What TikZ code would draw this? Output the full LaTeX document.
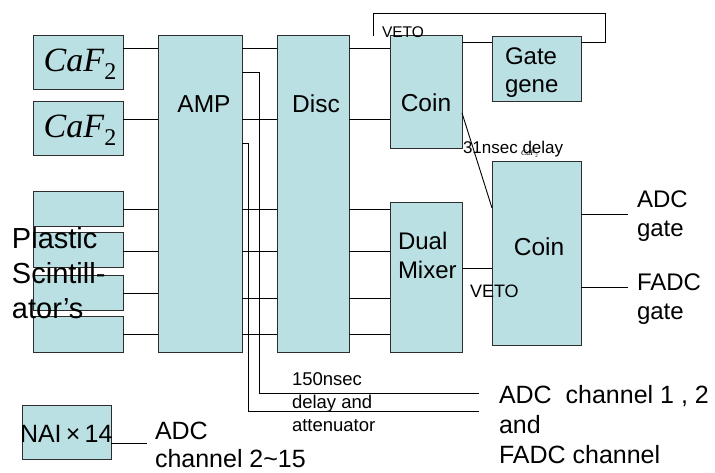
\documentclass[tikz,border=0pt]{standalone}
\usepackage{fontspec}
\setmainfont{Liberation Sans}
\newfontfamily\serifrm{Liberation Serif}
\usetikzlibrary{calc}
\definecolor{boxfill}{RGB}{187,224,227}
\definecolor{boxline}{RGB}{45,45,45}
\newcommand{\fsz}[2]{\fontsize{#1}{#2}\selectfont}
\newcommand{\cafbig}{{\serifrm\fsz{34}{34}\textit{CaF}\raisebox{-8pt}{\fsz{24}{24}2}}}
\newcommand{\caftiny}{{\serifrm\fsz{8}{8}\textit{CaF}\raisebox{-2pt}{\fsz{5}{5}2}}}
\newcommand{\mkbox}[5]{\node[box, minimum width={#4-#2}, minimum height={#5-#3}] (#1) at ({(#2+#4)/2},{(#3+#5)/2}) {};}
\begin{document}
\begin{tikzpicture}[x=1pt,y=-1pt,
  box/.style={draw=boxline, fill=boxfill, line width=1pt, inner sep=0pt, outer sep=0pt},
  lbl/.style={inner sep=0pt, outer sep=0pt},
  wire/.style={draw=black, line width=0.9pt}]
\useasboundingbox (0,0) rectangle (715,473);

% boxes
\mkbox{caf1}{33}{36}{123}{90}
\mkbox{caf2}{33}{102}{123}{156}
\mkbox{amp}{158}{36}{242}{352}
\mkbox{disc}{277}{36}{349}{352}
\mkbox{coin1}{390}{36}{462}{149}
\mkbox{gate}{492}{37}{581}{102}
\mkbox{mixer}{390}{203}{462}{352}
\mkbox{coin2}{492}{162}{581}{345}
\mkbox{p1}{33}{192}{123}{227}
\mkbox{p2}{33}{233}{123}{268}
\mkbox{p3}{33}{275}{123}{310}
\mkbox{p4}{33}{316}{123}{352}
\mkbox{nai}{22}{405}{111}{459}

% CaF2 rows
\draw[wire] (caf1.east |- 0,48) -- (amp.west |- 0,48);
\draw[wire] (amp.east |- 0,48) -- (disc.west |- 0,48);
\draw[wire] (disc.east |- 0,48) -- (coin1.west |- 0,48);
\draw[wire] (caf2.east |- 0,119) -- (amp.west |- 0,119);
\draw[wire] (amp.east |- 0,119) -- (disc.west |- 0,119);
\draw[wire] (disc.east |- 0,119) -- (coin1.west |- 0,119);

% plastic rows
\draw[wire] (p1.east |- 0,209) -- (amp.west |- 0,209);
\draw[wire] (p2.east |- 0,251) -- (amp.west |- 0,251);
\draw[wire] (p3.east |- 0,293) -- (amp.west |- 0,293);
\draw[wire] (p4.east |- 0,334) -- (amp.west |- 0,334);
\draw[wire] (amp.east |- 0,209) -- (disc.west |- 0,209);
\draw[wire] (amp.east |- 0,251) -- (disc.west |- 0,251);
\draw[wire] (amp.east |- 0,298) -- (disc.west |- 0,298);
\draw[wire] (amp.east |- 0,334) -- (disc.west |- 0,334);
\draw[wire] (disc.east |- 0,209) -- (mixer.west |- 0,209);
\draw[wire] (disc.east |- 0,251) -- (mixer.west |- 0,251);
\draw[wire] (disc.east |- 0,298) -- (mixer.west |- 0,298);
\draw[wire] (disc.east |- 0,334) -- (mixer.west |- 0,334);

% coincidence / veto loop
\coordinate (vetoend) at (373,36);
\coordinate (loopa) at (605,42);
\coordinate (loopb) at (605,13);
\coordinate (loopc) at (373,13);
\draw[wire] (coin1.east |- 0,42) -- (gate.west |- 0,42);
\draw[wire] (gate.east |- loopa) -- (loopa) -- (loopb) -- (loopc) -- (vetoend);
\draw[wire] (coin1.east |- 0,113) -- (coin2.west |- 0,208);
\draw[wire] (mixer.east |- 0,268) -- (coin2.west |- 0,268);
\coordinate (adcg) at (628,214);
\coordinate (fadcg) at (628,287);
\draw[wire] (coin2.east |- adcg) -- (adcg);
\draw[wire] (coin2.east |- fadcg) -- (fadcg);

% delay lines
\coordinate (dl1) at (479,393);
\coordinate (dl2) at (479,411);
\draw[wire] (amp.east |- 0,72) -| (259,393) -- (dl1);
\draw[wire] (amp.east |- 0,143) -| (248,411) -- (dl2);

% NAI
\coordinate (naiend) at (147,443);
\draw[wire] (nai.east |- naiend) -- (naiend);

% labels
\node[lbl, anchor=base] (caf1t) at (80,72) {\cafbig};
\node[lbl, anchor=base] (caf2t) at (80,138) {\cafbig};
\node[lbl, anchor=base, font={\fsz{24.5}{29}}] (ampt) at (204,112.5) {AMP};
\node[lbl, anchor=base, font={\fsz{24.5}{29}}] (disct) at (316,112.5) {Disc};
\node[lbl, anchor=base, font={\fsz{24.5}{29}}] (coin1t) at (426,112) {Coin};
\node[lbl, anchor=base, font={\fsz{24.5}{29}}] (coin2t) at (539,255) {Coin};
\node[lbl, anchor=north west, align=left, font={\fsz{24}{28}}] (gatet) at (505,48) {Gate\\gene};
\node[lbl, anchor=north west, align=left, font={\fsz{24}{29}}] (mixt) at (398,232) {Dual\\Mixer};
\node[lbl, anchor=north west, align=left, font={\fsz{29}{35}}] (plast) at (12,227) {Plastic\\Scintill-\\ator’s};
\node[lbl, anchor=north west, align=left, font={\fsz{24}{29}}] (adcgt) at (637,191) {ADC\\gate};
\node[lbl, anchor=north west, align=left, font={\fsz{24}{29}}] (fadcgt) at (637,274) {FADC\\gate};
\node[lbl, anchor=base west, font={\fsz{15.5}{18}}] (veto1) at (382,38) {VETO};
\node[lbl, anchor=base west, font={\fsz{18}{21}}] (veto2) at (470,297) {VETO};
\node[lbl, anchor=base west, font={\fsz{17}{20}}] (delayt) at (463,154) {31nsec delay};
\node[lbl, anchor=base west] (tinycaf) at (521,156) {\caftiny};
\node[lbl, anchor=north west, align=left, font={\fsz{18.5}{23}}] (att) at (292,373) {150nsec\\delay and\\attenuator};
\node[lbl, anchor=north west, align=left, font={\fsz{25}{30}}] (adcch) at (499,385) {ADC\ \ channel 1 , 2\\and\\FADC channel};
\node[lbl, anchor=base west, font={\fsz{25}{29}}] (nait) at (20,442) {NAI\,×\,14};
\node[lbl, anchor=north west, align=left, font={\fsz{25}{28}}] (adc215) at (155,422) {ADC\\channel 2\textasciitilde 15};
\end{tikzpicture}
\end{document}
